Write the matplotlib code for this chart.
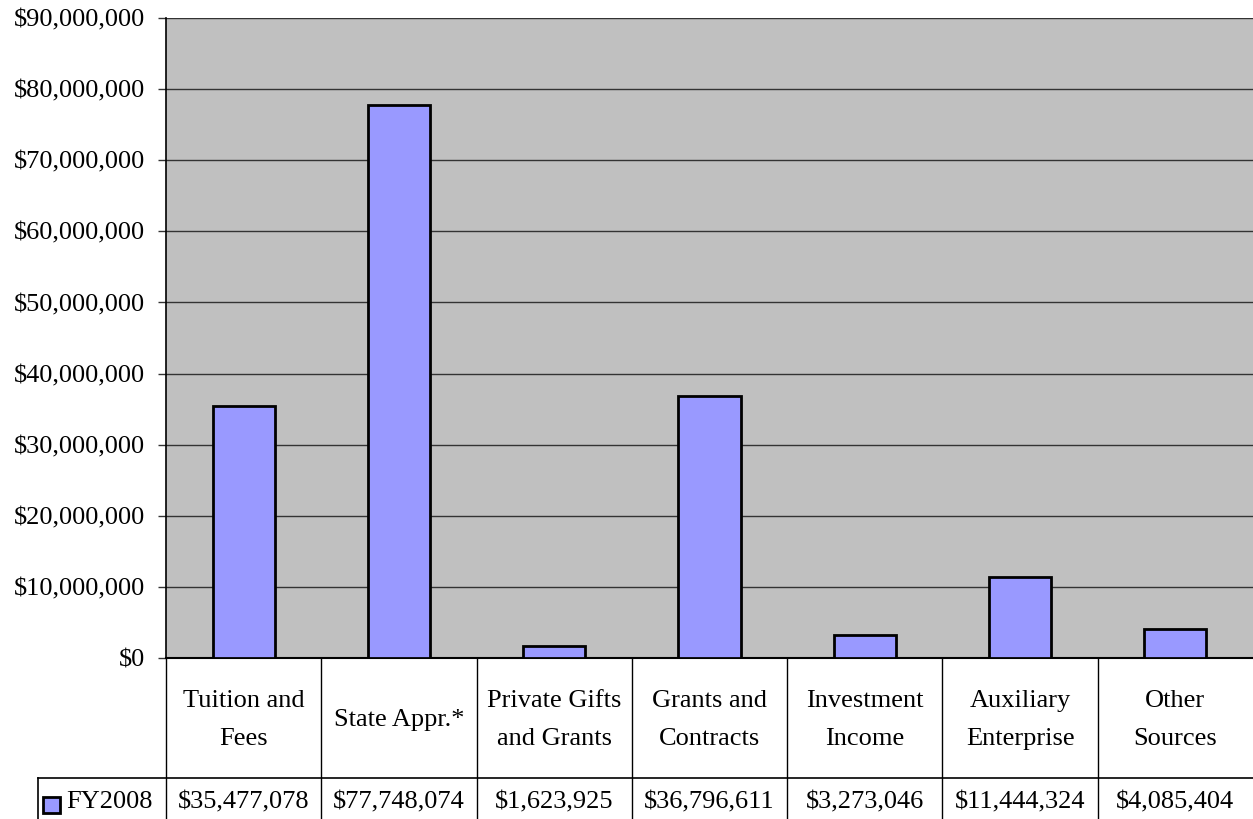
import matplotlib

matplotlib.use("Agg")
import matplotlib.pyplot as plt
import matplotlib.transforms as mtransforms
from matplotlib.patches import Rectangle

plt.rcParams.update({"font.family": ["Liberation Serif", "DejaVu Serif"]})

# ── Data ──────────────────────────────────────────────────────────────────────
CATEGORIES = [
    "Tuition and\nFees",
    "State Appr.*",
    "Private Gifts\nand Grants",
    "Grants and\nContracts",
    "Investment\nIncome",
    "Auxiliary\nEnterprise",
    "Other\nSources",
]
FY2008 = [35477078, 77748074, 1623925, 36796611, 3273046, 11444324, 4085404]
SERIES_NAME = "FY2008"
Y_TICKS = list(range(0, 90000001, 10000000))

BAR = "#9999FF"
PLOT_BG = "#C0C0C0"
FS = 19

fig = plt.figure(figsize=(12.53, 8.19), dpi=100)
fig.patch.set_facecolor("white")
ax = fig.add_axes([166 / 1253, 161 / 819, 1087 / 1253, 640 / 819])
ax.set_facecolor(PLOT_BG)

x = list(range(len(CATEGORIES)))
ax.bar(x, FY2008, width=0.4, color=BAR, edgecolor="black", linewidth=2, zorder=3)

ax.set_xlim(-0.5, len(CATEGORIES) - 0.5)
ax.set_ylim(0, 90000000)
ax.set_yticks(Y_TICKS)
ax.set_yticklabels([f"${v:,.0f}" for v in Y_TICKS], fontsize=FS)
ax.yaxis.grid(True, color="#333333", linewidth=1, zorder=1)
ax.set_axisbelow(True)
ax.tick_params(axis="y", direction="out", length=6, width=1, color="#333333", pad=9)
ax.tick_params(axis="x", bottom=False, labelbottom=False)
for s in ("top", "right"):
    ax.spines[s].set_visible(False)
ax.spines["left"].set_color("black")
ax.spines["bottom"].set_color("black")
ax.spines["left"].set_linewidth(1.2)
ax.spines["bottom"].set_linewidth(1.5)

# ── Data table below the axes ────────────────────────────────────────────────
trans = mtransforms.blended_transform_factory(ax.transData, ax.transAxes)
row_split = -120 / 640
table_bot = -161 / 640
legend_left = (38 - 166) / 1087  # axes fraction

for k in range(len(CATEGORIES)):
    edge = k - 0.5
    ax.plot([edge, edge], [0, table_bot], transform=trans, color="black",
            linewidth=1, clip_on=False)
ax.plot([legend_left, 1], [row_split, row_split], transform=ax.transAxes,
        color="black", linewidth=1.2, clip_on=False)
ax.plot([legend_left, legend_left], [row_split, table_bot], transform=ax.transAxes,
        color="black", linewidth=1.2, clip_on=False)

for i, (cat, val) in enumerate(zip(CATEGORIES, FY2008)):
    ax.text(i, row_split / 2 - 2 / 640, cat, transform=trans, ha="center", va="center",
            fontsize=FS, linespacing=1.9)
    ax.text(i, (row_split + table_bot) / 2 - 4 / 640, f"${val:,.0f}", transform=trans,
            ha="center", va="center", fontsize=FS)

# legend key in the value row
ymid = (row_split + table_bot) / 2
key_x = legend_left + 5 / 1087
ax.add_patch(Rectangle((key_x, ymid - 14 / 640), 17 / 1087, 16 / 640,
                       transform=ax.transAxes, facecolor=BAR, edgecolor="black",
                       linewidth=2, clip_on=False))
ax.text(key_x + 23 / 1087, ymid - 4 / 640, SERIES_NAME, transform=ax.transAxes,
        ha="left", va="center", fontsize=FS)

fig.savefig("out.png", dpi=100, facecolor="white")
